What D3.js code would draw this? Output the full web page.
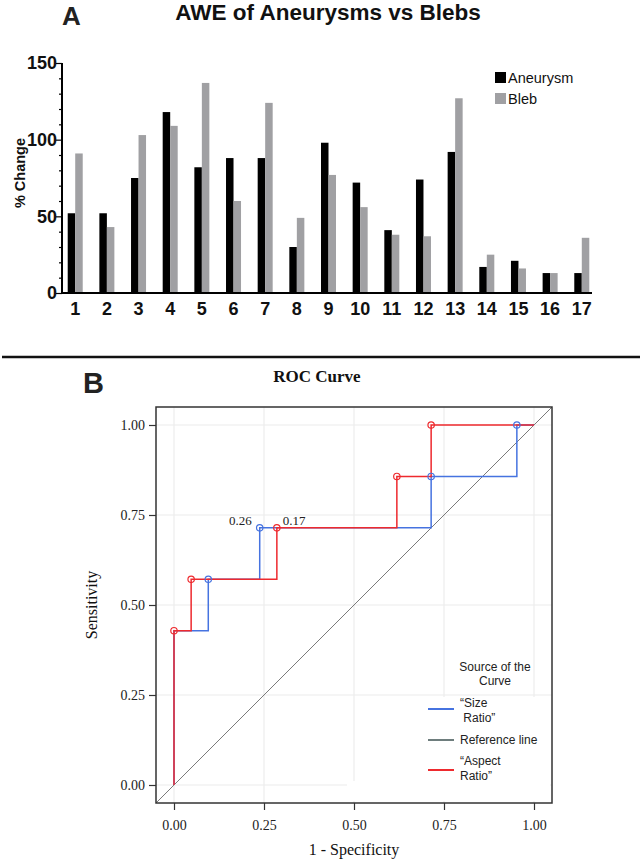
<!DOCTYPE html>
<html>
<head>
<meta charset="utf-8">
<script src="https://cdn.jsdelivr.net/npm/d3@7"></script>
<style>
  html, body { margin: 0; padding: 0; background: #fff; }
  svg { display: block; }
</style>
</head>
<body>
<svg id="chart" width="644" height="863"></svg>
<script>
// ---------- Panel A data ----------
const categories = ["1","2","3","4","5","6","7","8","9","10","11","12","13","14","15","16","17"];
const seriesNames = ["Aneurysm", "Bleb"];
const aneurysmValues = [52, 52, 75, 118, 82, 88, 88, 30, 98, 72, 41, 74, 92, 17, 21, 13, 13];
const blebValues     = [91, 43, 103, 109, 137, 60, 124, 49, 77, 56, 38, 37, 127, 25, 16, 13, 36];
const barYTicks = [0, 50, 100, 150];

// ---------- Panel B data ----------
const rocTicks = [0, 0.25, 0.5, 0.75, 1.0];
const rocTickLabels = ["0.00", "0.25", "0.50", "0.75", "1.00"];
// "Size Ratio" ROC path (1 - specificity, sensitivity)
const sizeFPR = [0, 0, 2/21, 2/21, 5/21, 5/21, 15/21, 15/21, 20/21, 20/21, 1];
const sizeTPR = [0, 3/7, 3/7, 4/7, 4/7, 5/7, 5/7, 6/7, 6/7, 1, 1];
const sizeMarkFPR = [2/21, 5/21, 15/21, 20/21];
const sizeMarkTPR = [4/7, 5/7, 6/7, 1];
// "Aspect Ratio" ROC path
const aspectFPR = [0, 0, 1/21, 1/21, 6/21, 6/21, 13/21, 13/21, 15/21, 15/21, 1];
const aspectTPR = [0, 3/7, 3/7, 4/7, 4/7, 5/7, 5/7, 6/7, 6/7, 1, 1];
const aspectMarkFPR = [0, 1/21, 6/21, 13/21, 15/21];
const aspectMarkTPR = [3/7, 4/7, 5/7, 6/7, 1];
const cutoffLabels = [
  {text: "0.26", fpr: 5/21, tpr: 5/7, side: "left"},
  {text: "0.17", fpr: 6/21, tpr: 5/7, side: "right"}
];

const svg = d3.select("#chart");
const SANS = "'Liberation Sans', Arial, Helvetica, sans-serif";
const SERIF = "'Liberation Serif', 'Times New Roman', serif";

// ======================= Panel A =======================
const gA = svg.append("g");
const barColors = {Aneurysm: "#000000", Bleb: "#a0a0a3"};

gA.append("text").attr("x", 62).attr("y", 25)
  .attr("font-family", SANS).attr("font-weight", "bold").attr("font-size", 26)
  .attr("fill", "#222").text("A");
gA.append("text").attr("x", 328).attr("y", 20).attr("text-anchor", "middle")
  .attr("font-family", SANS).attr("font-weight", "bold").attr("font-size", 22.5)
  .attr("fill", "#111").text("AWE of Aneurysms vs Blebs");

const xA = d3.scaleBand().domain(categories).range([63.5, 593.5])
  .paddingInner(0.526).paddingOuter(0.133);
const xSub = d3.scaleBand().domain(seriesNames).range([0, xA.bandwidth()]);
const yA = d3.scaleLinear().domain([0, 150]).range([293, 63]);

const barData = [];
categories.forEach((c, i) => {
  barData.push({cat: c, s: "Aneurysm", v: aneurysmValues[i]});
  barData.push({cat: c, s: "Bleb", v: blebValues[i]});
});
gA.selectAll("rect.bar").data(barData).enter().append("rect")
  .attr("class", "bar")
  .attr("x", d => xA(d.cat) + xSub(d.s))
  .attr("width", xSub.bandwidth())
  .attr("y", d => yA(d.v))
  .attr("height", d => yA(0) - yA(d.v))
  .attr("fill", d => barColors[d.s]);

// y axis with minor ticks
const yAxisA = d3.axisLeft(yA).tickValues(d3.range(0, 151, 10))
  .tickSize(3).tickFormat("");
const gyA = gA.append("g").attr("transform", "translate(62,0)").call(yAxisA);
gyA.select(".domain").attr("stroke-width", 2).attr("d", `M0,${yA(150)}V${yA(0)}`);
gyA.selectAll(".tick line").attr("stroke-width", 1.2)
  .attr("x2", d => barYTicks.includes(d) ? -6 : -3);
gA.selectAll("text.ytA").data(barYTicks).enter().append("text")
  .attr("class", "ytA")
  .attr("x", 57).attr("y", d => yA(d)).attr("dy", "0.36em")
  .attr("text-anchor", "end")
  .attr("font-family", SANS).attr("font-weight", "bold").attr("font-size", 18)
  .attr("fill", "#111").text(d => d);

// x axis
const xAxisA = d3.axisBottom(xA).tickSize(0).tickPadding(6);
const gxA = gA.append("g").attr("transform", `translate(0,${yA(0)})`).call(xAxisA);
gxA.select(".domain").attr("stroke-width", 2).attr("d", "M62,0H592");
gxA.selectAll(".tick text")
  .attr("font-family", SANS).attr("font-weight", "bold").attr("font-size", 18)
  .attr("fill", "#111").attr("y", 9).attr("dy", "0.71em");

gA.append("text")
  .attr("transform", "translate(25,173) rotate(-90)")
  .attr("text-anchor", "middle")
  .attr("font-family", SANS).attr("font-weight", "bold").attr("font-size", 14.5)
  .attr("fill", "#111").text("% Change");

// legend A
const legA = gA.selectAll("g.legA").data(seriesNames).enter().append("g")
  .attr("class", "legA")
  .attr("transform", (d, i) => `translate(495,${72 + i * 21})`);
legA.append("rect").attr("width", 11).attr("height", 11).attr("fill", d => barColors[d]);
legA.append("text").attr("x", 13).attr("y", 11)
  .attr("font-family", SANS).attr("font-size", 14.5).attr("fill", "#111").text(d => d);

// separator
svg.append("line").attr("x1", 2).attr("x2", 640).attr("y1", 357).attr("y2", 357)
  .attr("stroke", "#111").attr("stroke-width", 2.5);

// ======================= Panel B =======================
const gB = svg.append("g");
gB.append("text").attr("x", 83).attr("y", 393)
  .attr("font-family", SANS).attr("font-weight", "bold").attr("font-size", 29)
  .attr("fill", "#222").text("B");
gB.append("text").attr("x", 317).attr("y", 382).attr("text-anchor", "middle")
  .attr("font-family", SERIF).attr("font-weight", "bold").attr("font-size", 17)
  .attr("fill", "#111").text("ROC Curve");

const xB = d3.scaleLinear().domain([-0.05, 1.05]).range([156, 552]);
const yB = d3.scaleLinear().domain([-0.05, 1.05]).range([803, 407]);

// grid
gB.selectAll("line.gx").data(rocTicks).enter().append("line")
  .attr("x1", d => xB(d)).attr("x2", d => xB(d))
  .attr("y1", yB(1.05)).attr("y2", yB(-0.05))
  .attr("stroke", "#ebebeb").attr("stroke-width", 1.1);
gB.selectAll("line.gy").data(rocTicks).enter().append("line")
  .attr("y1", d => yB(d)).attr("y2", d => yB(d))
  .attr("x1", xB(-0.05)).attr("x2", xB(1.05))
  .attr("stroke", "#ebebeb").attr("stroke-width", 1.1);
// white areas (legend background)
gB.append("rect").attr("x", 421).attr("y", 697).attr("width", 129).attr("height", 104).attr("fill", "#fff");
gB.append("rect").attr("x", 347).attr("y", 781).attr("width", 80).attr("height", 20).attr("fill", "#fff");

// reference diagonal
gB.append("line")
  .attr("x1", xB(-0.05)).attr("y1", yB(-0.05))
  .attr("x2", xB(1.05)).attr("y2", yB(1.05))
  .attr("stroke", "#7a7a7a").attr("stroke-width", 1);

const blue = "#4673e0", red = "#ee2a2e";
const line = d3.line().x(d => xB(d[0])).y(d => yB(d[1]));
const sizePts = sizeFPR.map((f, i) => [f, sizeTPR[i]]);
const aspectPts = aspectFPR.map((f, i) => [f, aspectTPR[i]]);
gB.append("path").attr("d", line(sizePts)).attr("fill", "none")
  .attr("stroke", blue).attr("stroke-width", 1.5);
gB.append("path").attr("d", line(aspectPts)).attr("fill", "none")
  .attr("stroke", red).attr("stroke-width", 1.5);

gB.selectAll("circle.sm").data(sizeMarkFPR.map((f, i) => [f, sizeMarkTPR[i]])).enter()
  .append("circle").attr("cx", d => xB(d[0])).attr("cy", d => yB(d[1])).attr("r", 3.2)
  .attr("fill", "none").attr("stroke", blue).attr("stroke-width", 1.2);
gB.selectAll("circle.am").data(aspectMarkFPR.map((f, i) => [f, aspectMarkTPR[i]])).enter()
  .append("circle").attr("cx", d => xB(d[0])).attr("cy", d => yB(d[1])).attr("r", 3.2)
  .attr("fill", "none").attr("stroke", red).attr("stroke-width", 1.2);

gB.selectAll("text.cut").data(cutoffLabels).enter().append("text")
  .attr("x", d => d.side === "left" ? xB(d.fpr) - 8 : xB(d.fpr) + 6)
  .attr("y", d => yB(d.tpr) - 3)
  .attr("text-anchor", d => d.side === "left" ? "end" : "start")
  .attr("font-family", SERIF).attr("font-size", 13).attr("fill", "#222")
  .text(d => d.text);

// frame
gB.append("rect").attr("x", 156).attr("y", 407).attr("width", 396).attr("height", 396)
  .attr("fill", "none").attr("stroke", "#333").attr("stroke-width", 1.5);

// axes
const xAxisB = d3.axisBottom(xB).tickValues(rocTicks).tickSize(7).tickPadding(10)
  .tickFormat((d, i) => rocTickLabels[i]);
const gxB = gB.append("g").attr("transform", "translate(0,803)").call(xAxisB);
gxB.select(".domain").remove();
gxB.selectAll(".tick line").attr("stroke", "#333").attr("stroke-width", 1.2);
gxB.selectAll(".tick text").attr("font-family", SERIF).attr("font-size", 14).attr("fill", "#222");

const yAxisB = d3.axisLeft(yB).tickValues(rocTicks).tickSize(7).tickPadding(4)
  .tickFormat((d, i) => rocTickLabels[i]);
const gyB = gB.append("g").attr("transform", "translate(156,0)").call(yAxisB);
gyB.select(".domain").remove();
gyB.selectAll(".tick line").attr("stroke", "#333").attr("stroke-width", 1.2);
gyB.selectAll(".tick text").attr("font-family", SERIF).attr("font-size", 14).attr("fill", "#222");

gB.append("text").attr("x", 354).attr("y", 855).attr("text-anchor", "middle")
  .attr("font-family", SERIF).attr("font-size", 16).attr("fill", "#111").text("1 - Specificity");
gB.append("text").attr("transform", "translate(97,605) rotate(-90)").attr("text-anchor", "middle")
  .attr("font-family", SERIF).attr("font-size", 16).attr("fill", "#111").text("Sensitivity");

// legend B
const legB = gB.append("g").attr("font-family", SANS).attr("font-size", 12).attr("fill", "#222");
legB.append("text").attr("x", 495).attr("y", 671).attr("text-anchor", "middle").text("Source of the");
legB.append("text").attr("x", 495).attr("y", 685).attr("text-anchor", "middle").text("Curve");
const legItems = [
  {color: blue, y: 709, lines: ["\u201CSize", " Ratio\u201D"], ty: 707},
  {color: "#6e7d7d", y: 740, lines: ["Reference line"], ty: 744},
  {color: red, y: 770, lines: ["\u201CAspect", "Ratio\u201D"], ty: 765}
];
legItems.forEach(it => {
  legB.append("line").attr("x1", 428).attr("x2", 454).attr("y1", it.y).attr("y2", it.y)
    .attr("stroke", it.color).attr("stroke-width", 2);
  it.lines.forEach((t, j) => {
    legB.append("text").attr("x", 460).attr("y", it.ty + j * 15)
      .attr("xml:space", "preserve").style("white-space", "pre").text(t);
  });
});
</script>
</body>
</html>
